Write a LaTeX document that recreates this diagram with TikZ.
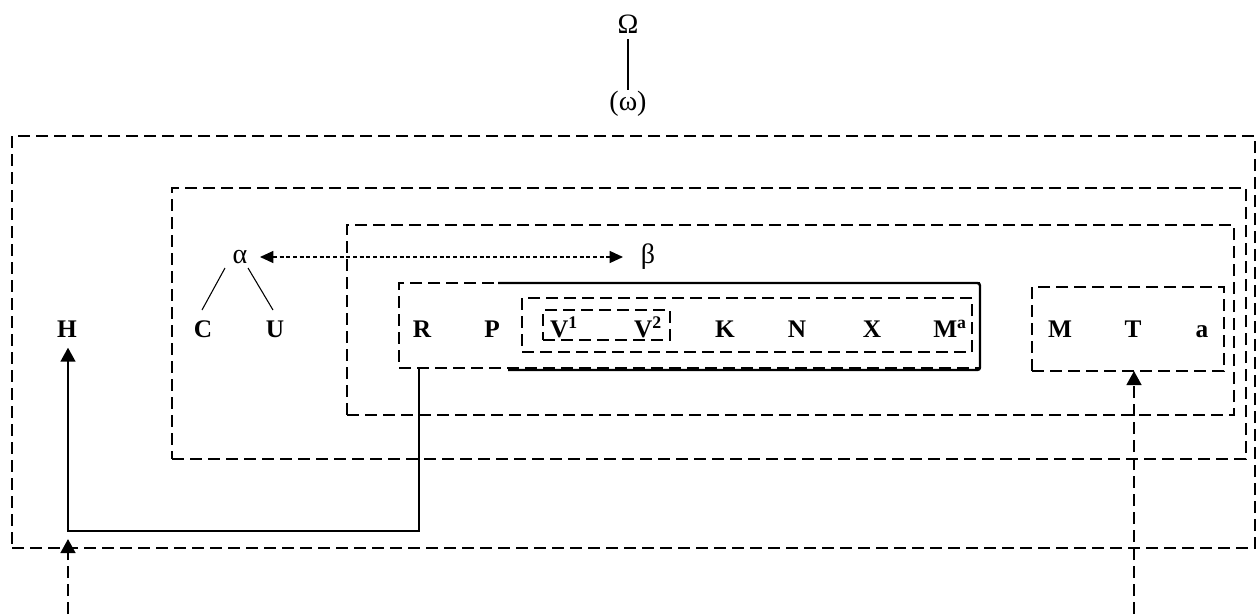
\documentclass[tikz,border=0pt]{standalone}
\usepackage{fontspec}
\setmainfont{Liberation Serif}
\usetikzlibrary{arrows.meta,calc}
\begin{document}
\begin{tikzpicture}[x=0.75pt,y=-0.75pt,
  dbox/.style={draw,line width=1.8pt,dash pattern=on 9pt off 4.5pt,inner sep=0pt,outer sep=0pt},
  lbl/.style={font=\fontsize{19}{21}\selectfont\bfseries,anchor=base,inner sep=0pt},
  gr/.style={font=\fontsize{21}{23}\selectfont,anchor=base,inner sep=0pt},
  darr/.style={line width=1.8pt,dash pattern=on 9pt off 4.5pt,-{Triangle[length=10.5pt,width=11pt]}},
  sarr/.style={line width=1.8pt,-{Triangle[length=10.5pt,width=11pt]}},
  thinarr/.style={line width=0.9pt,dash pattern=on 3pt off 2pt,{Triangle[length=10pt,width=9pt]}-{Triangle[length=10pt,width=9pt]}},
  thin/.style={line width=0.8pt}]
\useasboundingbox (0,0) rectangle (1260,614);
% boxes
\node[dbox,minimum width=932.25pt,minimum height=309pt] (outer) at (633.5,342) {};
\node[dbox,minimum width=805.5pt,minimum height=203.25pt] (box2) at (709,323.5) {};
\node[dbox,minimum width=665.25pt,minimum height=142.5pt] (box3) at (790.5,320) {};
\node[dbox,minimum width=435.75pt,minimum height=63.75pt] (rbox) at (689.5,325.5) {};
\node[dbox,minimum width=337.5pt,minimum height=40.5pt] (vbox) at (747,325) {};
\node[dbox,minimum width=95.25pt,minimum height=22.5pt] (vvbox) at (606.5,325) {};
\node[dbox,minimum width=144pt,minimum height=63pt] (mta) at (1128,329) {};
% solid bracket
\coordinate (sb1) at (498,283);
\coordinate (sb2) at (980,283);
\coordinate (sb3) at (980,370);
\coordinate (sb4) at (508,370);
\draw[line width=1.8pt,rounded corners=2pt] (sb1) -- (sb2) -- (sb3) -- (sb4);
% top
\node[gr] (Om) at (628,33) {Ω};
\node[gr] (om) at (628,110) {(ω)};
\draw[thin,shorten <=4.5pt] (Om.south) -- (om.north);
% alpha beta
\node[gr] (al) at (240,263) {α};
\node[gr] (be) at (648,263) {β};
\draw[thinarr] ($(al.base)+(20,-6)$) -- ($(be.base)+(-25,-6)$);
% letters
\node[lbl] (H) at (67,337) {H};
\node[lbl] (C) at (203,337) {C};
\node[lbl] (U) at (275,337) {U};
\node[lbl] (R) at (422,337) {R};
\node[lbl] (P) at (492,337) {P};
\node[lbl] (V1) at (564,337) {V\textsuperscript{1}};
\node[lbl] (V2) at (648,337) {V\textsuperscript{2}};
\node[lbl] (K) at (725,337) {K};
\node[lbl] (N) at (797,337) {N};
\node[lbl] (X) at (872,337) {X};
\node[lbl] (Ma) at (950,337) {M\textsuperscript{a}};
\node[lbl] (M) at (1060,337) {M};
\node[lbl] (T) at (1133,337) {T};
\node[lbl] (a) at (1202,337) {a};
\draw[thin] ($(al.base)+(-15,5)$) -- ($(C.base)+(-1,-27)$);
\draw[thin] ($(al.base)+(8,5)$) -- ($(U.base)+(-2,-27)$);
% connectors
\coordinate (turn) at (68,531);
\draw[sarr] ([xshift=15pt]rbox.south west) |- (turn) -- ([yshift=-8pt]turn |- H.base);
\coordinate (s1) at (68,614);
\draw[darr] (s1) -- ([yshift=6.75pt]outer.south -| s1);
\coordinate (s2) at (1134,614);
\draw[darr] (s2) -- (mta.south -| s2);
\end{tikzpicture}
\end{document}
